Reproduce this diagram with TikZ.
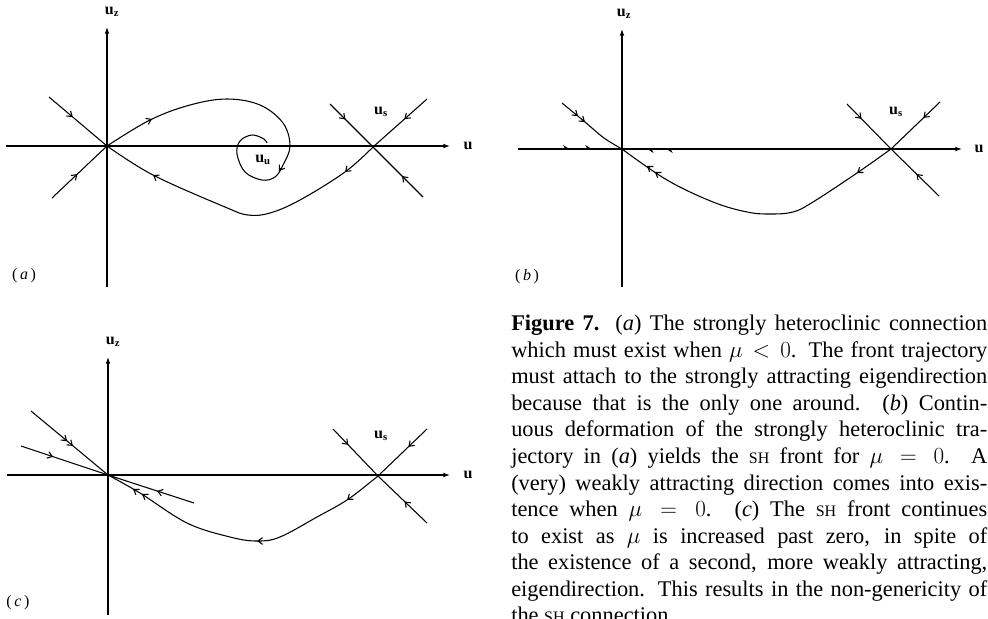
\documentclass[tikz,border=0pt]{standalone}
\usepackage{fontspec}
\setmainfont{Liberation Serif}
\usetikzlibrary{arrows.meta,decorations.markings,calc}
\newcommand{\shsc}{{\fontsize{12}{14}\selectfont SH}}
\newcommand{\capline}[1]{\makebox[357pt][s]{#1}}
\newcommand{\tipat}[3]{\draw[curve,-{Straight Barb[length=3.5pt,width=5pt]}] ($(#1,#2)+({#3+180}:2.5pt)$) -- (#1,#2);}
\begin{document}
\begin{tikzpicture}[x=0.75pt,y=-0.75pt,
  >={Straight Barb[length=3.5pt,width=5pt]},
  hp/.tip={Stealth[harpoon,length=4.5pt,width=6pt]},
  hps/.tip={Stealth[harpoon,swap,length=4.5pt,width=6pt]},
  curve/.style={line width=0.8pt},
  axis/.style={line width=0.8pt,-{Latex[length=5pt,width=3.5pt]}},
  arrowsat/.style={postaction={decorate,decoration={markings,#1}}},
  lab/.style={font=\bfseries\large, inner sep=0pt},
  plab/.style={font=\fontsize{12}{14}\selectfont, inner sep=0pt},
]
\useasboundingbox (0,0) rectangle (988,618);

% ---------------- panel (a)
\coordinate (Oa) at (107,146);
\coordinate (Sa) at (373,147);
\draw[axis] (107,287) -- (107,27);
\draw[axis] (6,146) -- (450,146);
\node[lab] (uza) at (112,12) {u\textsubscript{z}};
\node[lab] (ua) at (468,146) {u};
\node[lab] (usa) at (381,112) {u\textsubscript{s}};
\node[lab] (uua) at (263,160) {u\textsubscript{u}};
\node[plab] (pa) at (24,276) {(\,\textit{a}\,)};
\draw[curve,arrowsat={mark=at position 0.41 with {\arrow{>}}}] (49,97) -- (Oa);
\draw[curve,arrowsat={mark=at position 0.46 with {\arrow{>}}}] (52,198) -- (Oa);
\draw[curve] plot[smooth,tension=0.6] coordinates {(107,146) (150,120) (190,105) (227,99) (260,105) (283,123) (290,146) (283,165) (275,177) (262,180) (245,172) (237,154) (240,141) (252,135) (264,139) (267,143)};
\tipat{152}{119}{25}
\tipat{279}{171}{236}
\draw[curve] plot[smooth,tension=0.6] coordinates {(373,147) (345,172) (300,200) (270,213) (248,215) (225,207) (153,175) (107,146)};
\tipat{345}{172}{222}
\tipat{153}{175}{148}
\draw[curve,arrowsat={mark=at position 0.36 with {\arrow{>}}}] (330,104) -- (Sa);
\draw[curve,arrowsat={mark=at position 0.42 with {\arrow{>}}}] (423,197) -- (Sa);
\draw[curve,arrowsat={mark=at position 0.42 with {\arrow{>}}}] (427,99) -- (Sa);

% ---------------- panel (b)
\coordinate (Ob) at (622,149);
\coordinate (Sb) at (891,149);
\draw[axis] (622,287) -- (622,29);
\draw[axis,arrowsat={mark=at position 0.117 with {\arrow{hp}},mark=at position 0.167 with {\arrow{hp}},mark=at position 0.29 with {\arrowreversed{hps}},mark=at position 0.333 with {\arrowreversed{hps}}}] (518,149) -- (962,149);
\node[lab] (uzb) at (624,14) {u\textsubscript{z}};
\node[lab] (ub) at (979,149) {u};
\node[lab] (usb) at (896,112) {u\textsubscript{s}};
\node[plab] (pb) at (527,277) {(\,\textit{b}\,)};
\draw[curve] plot[smooth,tension=0.6] coordinates {(562,103) (585,122) (604,138) (622,149)};
\tipat{578}{116}{-39}
\tipat{585}{122}{-39}
\draw[curve] plot[smooth,tension=0.6] coordinates {(891,149) (857,173) (813,202) (793,212) (770,214) (747,212) (713,202) (667,180) (622,149)};
\tipat{857}{173}{215}
\tipat{655}{172}{145}
\tipat{647}{166}{145}
\draw[curve,arrowsat={mark=at position 0.33 with {\arrow{>}}}] (847,104) -- (Sb);
\draw[curve,arrowsat={mark=at position 0.47 with {\arrow{>}}}] (939,196) -- (Sb);
\draw[curve,arrowsat={mark=at position 0.34 with {\arrow{>}}}] (940,102) -- (Sb);

% ---------------- panel (c)
\coordinate (Oc) at (108,475);
\coordinate (Sc) at (378,476);
\draw[axis] (108,615) -- (108,357);
\draw[axis] (7,475) -- (450,475);
\node[lab] (uzc) at (113,342) {u\textsubscript{z}};
\node[lab] (uc) at (468,475) {u};
\node[lab] (usc) at (381,436) {u\textsubscript{s}};
\node[plab] (pc) at (18,603) {(\,\textit{c}\,)};
\draw[curve,arrowsat={mark=at position 0.47 with {\arrow{>}},mark=at position 0.545 with {\arrow{>}}}] (31,411) -- (Oc);
\draw[curve,arrowsat={mark=at position 0.37 with {\arrow{>}}}] (21,446) -- (Oc);
\draw[curve,arrowsat={mark=at position 0.43 with {\arrow{>}}}] (194,503) -- (Oc);
\draw[curve] plot[smooth,tension=0.6] coordinates {(378,476) (373,480) (347,500) (317,517) (280,537) (257,541) (230,537) (187,523) (140,493) (108,475)};
\tipat{347}{500}{218}
\tipat{257}{541}{180}
\tipat{142}{494}{147}
\tipat{133}{489}{147}
\draw[curve,arrowsat={mark=at position 0.34 with {\arrow{>}}}] (333,429) -- (Sc);
\draw[curve,arrowsat={mark=at position 0.46 with {\arrow{>}}}] (427,523) -- (Sc);
\draw[curve,arrowsat={mark=at position 0.38 with {\arrow{>}}}] (427,429) -- (Sc);

% ---------------- caption
\node[anchor=north west, inner sep=0pt, align=left,
      font=\fontsize{16.8}{19.9}\selectfont] (cap) at (511,315)
{\capline{\textbf{Figure 7.} (\textit{a}) The strongly heteroclinic connection}\\
\capline{which must exist when $\mu<0$. The front trajectory}\\
\capline{must attach to the strongly attracting eigendirection}\\
\capline{because that is the only one around. (\textit{b}) Contin-}\\
\capline{uous deformation of the strongly heteroclinic tra-}\\
\capline{jectory in (\textit{a}) yields the \shsc{} front for $\mu=0$. A}\\
\capline{(very) weakly attracting direction comes into exis-}\\
\capline{tence when $\mu=0$. (\textit{c}) The \shsc{} front continues}\\
\capline{to exist as $\mu$ is increased past zero, in spite of}\\
\capline{the existence of a second, more weakly attracting,}\\
\capline{eigendirection. This results in the non-genericity of}\\
the \shsc{} connection.};
\end{tikzpicture}
\end{document}
